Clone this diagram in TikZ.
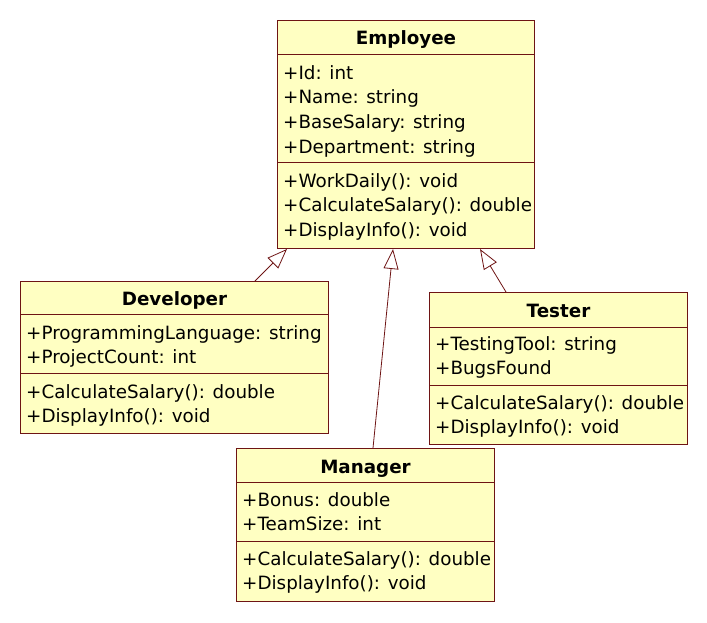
\documentclass[tikz,border=0pt]{standalone}
\usepackage{fontspec}
\setmainfont{DejaVu Sans}
\usetikzlibrary{arrows.meta,calc}
\definecolor{umlfill}{RGB}{255,255,194}
\definecolor{umlline}{RGB}{110,20,20}

\begin{document}
\begin{tikzpicture}[x=1pt,y=-1pt,
  cls/.style={draw=umlline,fill=umlfill,line width=1pt,inner sep=0pt,anchor=north west},
  ttl/.style={font=\bfseries\fontsize{18.3}{22}\selectfont,anchor=base,inner sep=0pt},
  mem/.style={font=\fontsize{18.3}{22}\selectfont,anchor=base west,inner sep=0pt},
  sep/.style={draw=umlline,line width=1pt},
  inherit/.style={draw=umlline,line width=0.8pt,-{Triangle[open,length=20pt,width=15pt]}}]
\useasboundingbox (0,0) rectangle (707,622);

% Employee
\node[cls,minimum width=257pt,minimum height=228pt] (emp) at (277,20) {};
\node[ttl] (empname) at ($(emp.north)+(0,24)$) {Employee};
\draw[sep] ($(emp.north west)+(0,34)$) -- ($(emp.north east)+(0,34)$);
\draw[sep] ($(emp.north west)+(0,142)$) -- ($(emp.north east)+(0,142)$);
\foreach \t [count=\i from 0] in {+Id: int,+Name: string,+BaseSalary: string,+Department: string}
  \node[mem] (empa\i) at ($(emp.north west)+(6,59+24.7*\i)$) {\t};
\foreach \t [count=\i from 0] in {+WorkDaily(): void,+CalculateSalary(): double,+DisplayInfo(): void}
  \node[mem] (empm\i) at ($(emp.north west)+(6,167+24.7*\i)$) {\t};

% Developer
\node[cls,minimum width=308pt,minimum height=152pt] (dev) at (20,281) {};
\node[ttl] (devname) at ($(dev.north)+(0,24)$) {Developer};
\draw[sep] ($(dev.north west)+(0,33)$) -- ($(dev.north east)+(0,33)$);
\draw[sep] ($(dev.north west)+(0,92)$) -- ($(dev.north east)+(0,92)$);
\foreach \t [count=\i from 0] in {+ProgrammingLanguage: string,+ProjectCount: int}
  \node[mem] (deva\i) at ($(dev.north west)+(6,58+24.7*\i)$) {\t};
\foreach \t [count=\i from 0] in {+CalculateSalary(): double,+DisplayInfo(): void}
  \node[mem] (devm\i) at ($(dev.north west)+(6,117+24.7*\i)$) {\t};

% Tester
\node[cls,minimum width=258pt,minimum height=152pt] (tst) at (429,292) {};
\node[ttl] (tstname) at ($(tst.north)+(0,25)$) {Tester};
\draw[sep] ($(tst.north west)+(0,35)$) -- ($(tst.north east)+(0,35)$);
\draw[sep] ($(tst.north west)+(0,93)$) -- ($(tst.north east)+(0,93)$);
\foreach \t [count=\i from 0] in {+TestingTool: string,+BugsFound}
  \node[mem] (tsta\i) at ($(tst.north west)+(6,58+24.7*\i)$) {\t};
\foreach \t [count=\i from 0] in {+CalculateSalary(): double,+DisplayInfo(): void}
  \node[mem] (tstm\i) at ($(tst.north west)+(6,117+24.7*\i)$) {\t};

% Manager
\node[cls,minimum width=258pt,minimum height=153pt] (mgr) at (236,448) {};
\node[ttl] (mgrname) at ($(mgr.north)+(0,25)$) {Manager};
\draw[sep] ($(mgr.north west)+(0,34)$) -- ($(mgr.north east)+(0,34)$);
\draw[sep] ($(mgr.north west)+(0,93)$) -- ($(mgr.north east)+(0,93)$);
\foreach \t [count=\i from 0] in {+Bonus: double,+TeamSize: int}
  \node[mem] (mgra\i) at ($(mgr.north west)+(6,58+24.7*\i)$) {\t};
\foreach \t [count=\i from 0] in {+CalculateSalary(): double,+DisplayInfo(): void}
  \node[mem] (mgrm\i) at ($(mgr.north west)+(6,117+24.7*\i)$) {\t};

% generalisation
\draw[inherit] ($(dev.north west)+(235,0)$) -- ($(emp.south west)+(10,0)$);
\draw[inherit] ($(mgr.north west)+(137,0)$) -- ($(emp.south west)+(116,0)$);
\draw[inherit] ($(tst.north west)+(77,0)$) -- ($(emp.south west)+(203,0)$);
\end{tikzpicture}
\end{document}
